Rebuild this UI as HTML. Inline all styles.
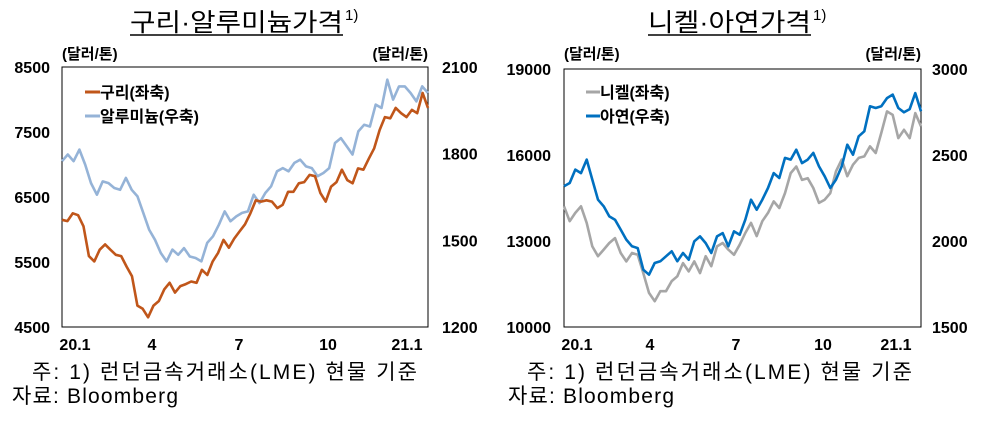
<!DOCTYPE html>
<html><head><meta charset="utf-8"><style>
html,body{margin:0;padding:0;background:#fff;}
svg{display:block;font-family:"Liberation Sans","Noto Sans CJK KR",sans-serif;}
.tk{font-size:16px;font-weight:bold;fill:#000;}
.un{font-size:15px;font-weight:bold;fill:#000;}
.lg{font-size:16px;font-weight:bold;fill:#000;}
.ttl{font-size:25px;fill:#000;}
.ft{font-size:21px;fill:#000;}
</style></head><body>
<svg id="chart" width="983" height="426" viewBox="0 0 983 426">
<g id="left">
  <text class="ttl" x="130" y="31" textLength="213" lengthAdjust="spacingAndGlyphs">구리·알루미늄가격</text>
  <text x="345" y="20" font-size="15">1)</text>
  <line x1="130" y1="35" x2="343" y2="35" stroke="#000" stroke-width="1.5"/>
  <text class="un" x="62" y="59">(달러/톤)</text>
  <text class="un" x="428" y="59" text-anchor="end">(달러/톤)</text>
  <rect x="62" y="67" width="366" height="260" fill="none" stroke="#000" stroke-width="1"/>
  <line x1="85" y1="92" x2="100" y2="92" stroke="#c0561a" stroke-width="3"/>
  <text class="lg" x="100" y="98">구리(좌축)</text>
  <line x1="85" y1="116" x2="100" y2="116" stroke="#95b3d7" stroke-width="3"/>
  <text class="lg" x="100" y="122">알루미늄(우축)</text>
  <text class="ft" x="32" y="379" textLength="385" lengthAdjust="spacing">주: 1) 런던금속거래소(LME) 현물 기준</text>
  <text class="ft" x="12" y="403" textLength="166" lengthAdjust="spacing">자료: Bloomberg</text>
</g>
<g id="right">
  <text class="ttl" x="648" y="31" textLength="163" lengthAdjust="spacingAndGlyphs">니켈·아연가격</text>
  <text x="813" y="20" font-size="15">1)</text>
  <line x1="648" y1="35" x2="811" y2="35" stroke="#000" stroke-width="1.5"/>
  <text class="un" x="564" y="59">(달러/톤)</text>
  <text class="un" x="921" y="59" text-anchor="end">(달러/톤)</text>
  <rect x="564" y="69" width="357" height="258" fill="none" stroke="#000" stroke-width="1"/>
  <line x1="586" y1="92" x2="600" y2="92" stroke="#a6a6a6" stroke-width="3"/>
  <text class="lg" x="600" y="98">니켈(좌축)</text>
  <line x1="586" y1="116" x2="600" y2="116" stroke="#0070c0" stroke-width="3"/>
  <text class="lg" x="600" y="122">아연(우축)</text>
  <text class="ft" x="527" y="379" textLength="385" lengthAdjust="spacing">주: 1) 런던금속거래소(LME) 현물 기준</text>
  <text class="ft" x="508" y="403" textLength="166" lengthAdjust="spacing">자료: Bloomberg</text>
</g>
</svg>
<script>
const copper=[6150,6130,6250,6220,6050,5590,5510,5690,5770,5690,5610,5590,5430,5280,4830,4780,4650,4830,4900,5080,5180,5030,5130,5160,5200,5180,5380,5300,5510,5640,5840,5720,5860,5970,6080,6250,6450,6430,6450,6430,6330,6380,6580,6580,6710,6730,6840,6820,6560,6430,6660,6730,6920,6760,6710,6940,6920,7090,7250,7530,7730,7710,7870,7790,7730,7840,7790,8100,7870];
const aluminum=[1774,1797,1774,1814,1762,1698,1658,1704,1698,1681,1675,1716,1675,1652,1595,1537,1502,1456,1427,1468,1450,1473,1444,1439,1427,1491,1514,1554,1600,1566,1583,1595,1600,1658,1629,1664,1687,1739,1750,1739,1768,1779,1756,1750,1722,1733,1750,1837,1854,1826,1797,1877,1900,1894,1970,1958,2056,1987,2033,2033,2010,1981,2033,2010];
const nickel=[14210,13690,13980,14210,13630,12810,12470,12700,12930,13100,12580,12290,12580,12520,11880,11190,10900,11250,11250,11600,11770,12230,11940,12290,11880,12470,12120,12810,12930,12700,12520,12870,13280,13630,13170,13690,13980,14380,14150,14670,15370,15600,15130,15190,14850,14330,14440,14670,15430,15840,15260,15660,15900,15950,16300,16070,16770,17520,17400,16590,16880,16590,17460,17000];
const zinc=[2318,2337,2415,2395,2473,2357,2240,2202,2143,2124,2066,2008,1969,1959,1833,1804,1872,1882,1911,1940,1882,1930,1891,1998,2027,1988,1930,2027,2046,1969,2056,2036,2124,2240,2182,2240,2308,2395,2366,2483,2473,2531,2453,2473,2512,2434,2376,2308,2357,2434,2560,2502,2609,2638,2783,2773,2783,2831,2851,2773,2748,2767,2860,2754];
const leftTicks=["8500","7500","6500","5500","4500"];
const leftTicks2=["2100","1800","1500","1200"];
const rightTicks=["19000","16000","13000","10000"];
const rightTicks2=["3000","2500","2000","1500"];
const monthLabels=["20.1","4","7","10","21.1"];
const leftMonthX=[75,152,239,328,407];
const rightMonthX=[577,650,736,823,896];
const NS="http://www.w3.org/2000/svg";
function scale(d0,d1,r0,r1){return v=>r0+(v-d0)/(d1-d0)*(r1-r0);}
function txt(g,x,y,s,anchor,name){const t=document.createElementNS(NS,'text');t.setAttribute('x',x);t.setAttribute('y',y);t.setAttribute('class','tk');t.setAttribute('text-anchor',anchor);t.textContent=s;


g.appendChild(t);}
function line(g,arr,xs,ys,color,name){const p=document.createElementNS(NS,'polyline');p.setAttribute('points',arr.map((v,i)=>xs(i/(arr.length-1)).toFixed(1)+','+ys(v).toFixed(1)).join(' '));p.setAttribute('fill','none');p.setAttribute('stroke',color);p.setAttribute('stroke-width','2.6');p.setAttribute('stroke-linejoin','round');


g.appendChild(p);}
function axes(g,ticks,d0,d1,y0,y1,x,anchor,prefix){const s=scale(d0,d1,y0,y1);ticks.forEach(t=>txt(g,x,s(+t)+6,t,anchor,prefix+'-tick-'+t));}
const L=document.getElementById('left'),R=document.getElementById('right');
axes(L,leftTicks,4500,8500,327,67,50,'end','left-y');
axes(L,leftTicks2,1200,2100,327,67,442,'start','left-y2');
monthLabels.forEach((m,i)=>txt(L,leftMonthX[i],350,m,'middle','left-x-tick-'+i));
const lx=scale(0,1,62,428);
line(L,aluminum,lx,scale(1200,2100,327,67),'#95b3d7','aluminum-line');
line(L,copper,lx,scale(4500,8500,327,67),'#c0561a','copper-line');
axes(R,rightTicks,10000,19000,327,69,551,'end','right-y');
axes(R,rightTicks2,1500,3000,327,69,932,'start','right-y2');
monthLabels.forEach((m,i)=>txt(R,rightMonthX[i],350,m,'middle','right-x-tick-'+i));
const rx=scale(0,1,564,921);
line(R,nickel,rx,scale(10000,19000,327,69),'#a6a6a6','nickel-line');
line(R,zinc,rx,scale(1500,3000,327,69),'#0070c0','zinc-line');
</script>
</body></html>
